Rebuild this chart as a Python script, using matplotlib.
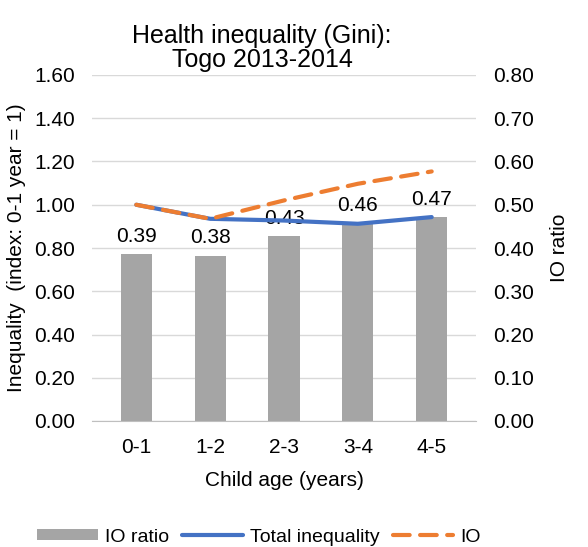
import matplotlib.pyplot as plt
import numpy as np

plt.rcParams['font.family'] = ['Liberation Sans', 'DejaVu Sans']

ages = ['0-1', '1-2', '2-3', '3-4', '4-5']
io_ratio = [0.386, 0.382, 0.428, 0.458, 0.472]
total_ineq = [1.00, 0.935, 0.927, 0.912, 0.943]
io = [1.00, 0.935, 1.02, 1.097, 1.154]

fig = plt.figure(figsize=(5.88, 5.47), dpi=100)
ax = fig.add_axes([92/588, 1-421/547, (476-92)/588, (421-75)/547])
ax2 = ax.twinx()

x = np.arange(len(ages))
bars = ax2.bar(x, io_ratio, width=0.42, color='#a5a5a5', label='IO ratio', zorder=2)
for xi, v in zip(x, io_ratio):
    ax2.annotate('%.2f' % v, (xi, v), xytext=(0, 6), textcoords='offset points',
                 ha='center', va='bottom', fontsize=15)

l1, = ax.plot(x, total_ineq, color='#4472c4', lw=3, solid_capstyle='round',
              label='Total inequality', zorder=3)
l2, = ax.plot(x, io, color='#ed7d31', lw=3, ls=(0, (4, 2.5)), dash_capstyle='round',
              label='IO', zorder=4)

# lines above the bars
ax.set_zorder(ax2.get_zorder() + 1)
ax.patch.set_visible(False)

ax.set_ylim(0, 1.6)
ax2.set_ylim(0, 0.8)
ax.set_xlim(-0.6, 4.6)
ax.set_yticks(np.arange(0, 1.61, 0.2))
ax.set_yticklabels(['%.2f' % t for t in np.arange(0, 1.61, 0.2)])
ax2.set_yticks(np.arange(0, 0.81, 0.1))
ax2.set_yticklabels(['%.2f' % t for t in np.arange(0, 0.81, 0.1)])
ax.set_xticks(x)
ax.set_xticklabels(ages)

for a in (ax, ax2):
    for s in ['top', 'left', 'right']:
        a.spines[s].set_visible(False)
    a.spines['bottom'].set_color('#bfbfbf')
    a.tick_params(length=0, labelsize=15, pad=12)
ax.tick_params(axis='x', pad=12)
ax2.spines['bottom'].set_visible(False)

ax2.yaxis.grid(True, color='#d9d9d9', lw=1)
ax2.set_axisbelow(True)

ax.set_ylabel('Inequality  (index: 0-1 year = 1)', fontsize=15, labelpad=6)
ax2.set_ylabel('IO ratio', fontsize=15, labelpad=12)
ax.set_xlabel('Child age (years)', fontsize=15, labelpad=10)
ax.set_title('Health inequality (Gini):\nTogo 2013-2014', fontsize=18, pad=6,
             linespacing=1.0, x=0.443)

fig.legend([bars, l1, l2], ['IO ratio', 'Total inequality', 'IO'],
           loc='center', bbox_to_anchor=(259/588, 1-537/547), ncol=3, frameon=False,
           fontsize=14, handlelength=3.1, handleheight=0.55, columnspacing=0.7,
           handletextpad=0.36)

fig.savefig('out.png', dpi=100)
